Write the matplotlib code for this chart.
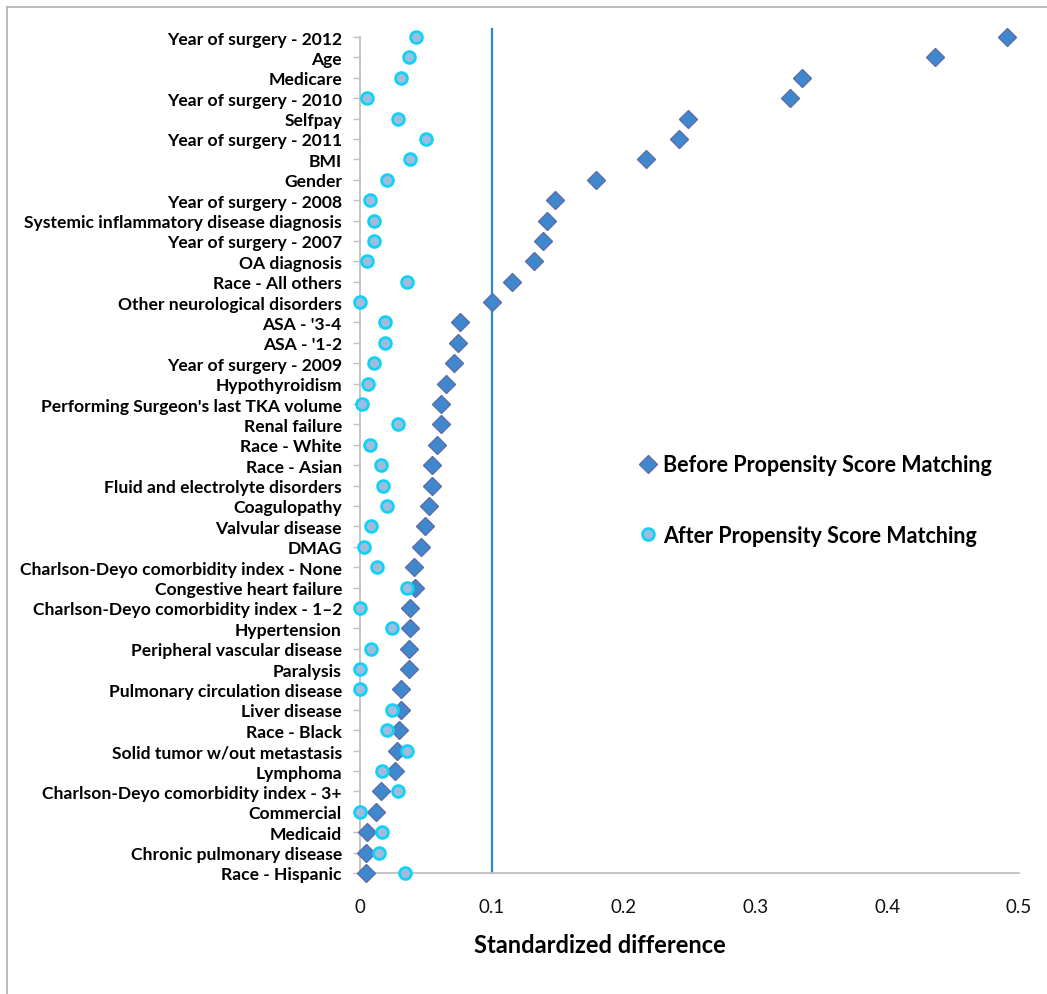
import matplotlib
matplotlib.use("Agg")
import matplotlib.pyplot as plt
from matplotlib.lines import Line2D

plt.rcParams['font.family'] = ['Lato', 'DejaVu Sans']

# Covariates, top to bottom as in the chart
labels = [
    "Year of surgery - 2012", "Age", "Medicare", "Year of surgery - 2010",
    "Selfpay", "Year of surgery - 2011", "BMI", "Gender",
    "Year of surgery - 2008", "Systemic inflammatory disease diagnosis",
    "Year of surgery - 2007", "OA diagnosis", "Race - All others",
    "Other neurological disorders", "ASA - '3-4", "ASA - '1-2",
    "Year of surgery - 2009", "Hypothyroidism",
    "Performing Surgeon's last TKA volume", "Renal failure", "Race - White",
    "Race - Asian", "Fluid and electrolyte disorders", "Coagulopathy",
    "Valvular disease", "DMAG", "Charlson-Deyo comorbidity index - None",
    "Congestive heart failure", "Charlson-Deyo comorbidity index - 1\u20132",
    "Hypertension", "Peripheral vascular disease", "Paralysis",
    "Pulmonary circulation disease", "Liver disease", "Race - Black",
    "Solid tumor w/out metastasis", "Lymphoma",
    "Charlson-Deyo comorbidity index - 3+", "Commercial", "Medicaid",
    "Chronic pulmonary disease", "Race - Hispanic",
]

before = [
    0.491, 0.436, 0.335, 0.326, 0.249, 0.242, 0.217, 0.179, 0.148, 0.142,
    0.139, 0.132, 0.115, 0.100, 0.0755, 0.0747, 0.0715, 0.0654, 0.0616,
    0.0616, 0.0583, 0.0548, 0.0548, 0.0522, 0.0495, 0.0464, 0.0406, 0.0414,
    0.0381, 0.0381, 0.0368, 0.0368, 0.0312, 0.0312, 0.0295, 0.0282, 0.0267,
    0.0156, 0.0118, 0.0055, 0.0047, 0.0047,
]

after = [
    0.0426, 0.037, 0.031, 0.0055, 0.0285, 0.050, 0.038, 0.0206, 0.0075,
    0.0105, 0.0105, 0.0055, 0.036, 0.0, 0.0188, 0.0188, 0.0108, 0.0057,
    0.0017, 0.0292, 0.0077, 0.0163, 0.0173, 0.0206, 0.0085, 0.0032, 0.0128,
    0.0358, 0.0, 0.0242, 0.0085, 0.0, 0.0, 0.0242, 0.0206, 0.0355, 0.0166,
    0.0292, 0.0, 0.0166, 0.0143, 0.0338,
]

threshold = 0.1
xticks = [0, 0.1, 0.2, 0.3, 0.4, 0.5]

n = len(labels)
ypos = [n - 1 - i for i in range(n)]

fig = plt.figure(figsize=(10.47, 9.95), dpi=100)
ax = fig.add_axes([360 / 1047, 121 / 995, 659 / 1047, 836 / 995])

ax.plot([threshold, threshold], [0, n - 1 + 0.4], color="#2F86C9", lw=1.6,
        clip_on=False, zorder=1)

ax.plot(before, ypos, ls="none", marker="D", ms=9, mfc="#3F88CE",
        mec="#5E6CA8", mew=1.0, clip_on=False, zorder=3,
        label="Before Propensity Score Matching")
ax.plot(after, ypos, ls="none", marker="o", ms=8.5, mfc="#A0BCDD",
        mec="#10D2F4", mew=2.0, clip_on=False, zorder=4,
        label="After Propensity Score Matching")

ax.set_xlim(0, 0.5)
ax.set_ylim(0, n - 1)
ax.set_xticks(xticks)
ax.set_xticklabels(["0", "0.1", "0.2", "0.3", "0.4", "0.5"])
ax.set_yticks(ypos)
ax.set_yticklabels(labels, fontweight="bold", fontsize=12.6)

for s in ["top", "right"]:
    ax.spines[s].set_visible(False)
for s in ["left", "bottom"]:
    ax.spines[s].set_color("#BFBFBF")
    ax.spines[s].set_linewidth(1.3)

ax.tick_params(axis="y", length=5, color="#BFBFBF", width=1.0, pad=8)
ax.tick_params(axis="x", length=0, pad=18, labelsize=13.5, labelcolor="#111111")

fig.text(600 / 1047, 1 - 946 / 995, "Standardized difference",
         fontsize=17, fontweight="bold", ha="center", va="center")

leg = ax.legend(loc="upper left",
                bbox_to_anchor=((622 - 360) / 659, (874 - 436) / 836),
                frameon=False, handlelength=0.6, handletextpad=0.4,
                labelspacing=2.3, prop={"weight": "bold", "size": 15.5})

# thin gray frame lines (top and left) like the source figure
fig.add_artist(Line2D([7 / 1047, 7 / 1047], [0, 1 - 8 / 995],
                      transform=fig.transFigure, color="#B0B0B0", lw=1.2))
fig.add_artist(Line2D([7 / 1047, 1], [1 - 8 / 995, 1 - 8 / 995],
                      transform=fig.transFigure, color="#B0B0B0", lw=1.2))

fig.savefig("out.png", dpi=100)
